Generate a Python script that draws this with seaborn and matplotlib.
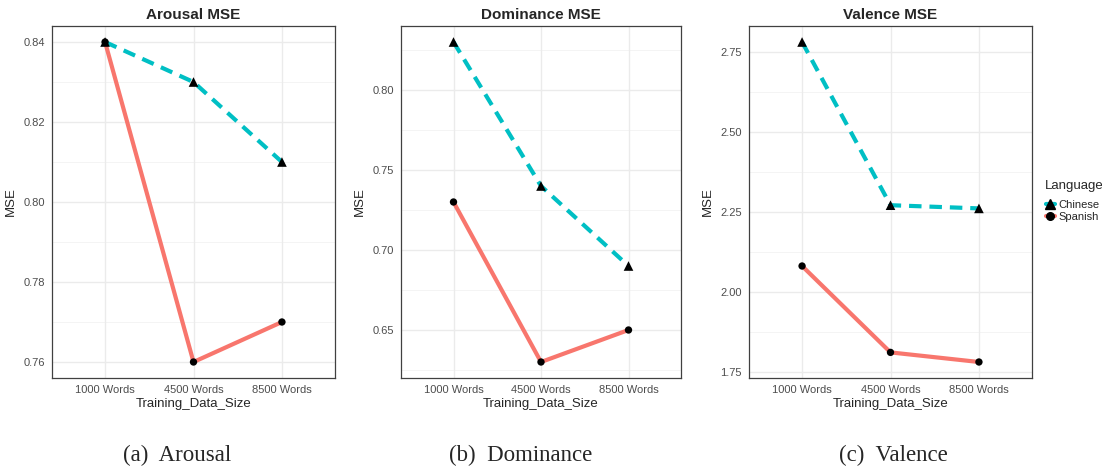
import numpy as np
import pandas as pd
import matplotlib
matplotlib.use('Agg')
import matplotlib.pyplot as plt
import seaborn as sns
from matplotlib.lines import Line2D

sizes = ['1000 Words', '4500 Words', '8500 Words']
languages = ['Chinese', 'Spanish']

arousal_chinese = [0.84, 0.83, 0.81]
arousal_spanish = [0.84, 0.76, 0.77]
dominance_chinese = [0.83, 0.74, 0.69]
dominance_spanish = [0.73, 0.63, 0.65]
valence_chinese = [2.78, 2.27, 2.26]
valence_spanish = [2.08, 1.81, 1.78]

titles = ['Arousal MSE', 'Dominance MSE', 'Valence MSE']
captions = ['(a)  Arousal', '(b)  Dominance', '(c)  Valence']
yticks = [[0.76, 0.78, 0.80, 0.82, 0.84],
          [0.65, 0.70, 0.75, 0.80],
          [1.75, 2.00, 2.25, 2.50, 2.75]]

colors = {'Chinese': '#00BFC4', 'Spanish': '#F8766D'}
markers = {'Chinese': '^', 'Spanish': 'o'}
msizes = {'Chinese': 48, 'Spanish': 28}

def make_df(ch, sp):
    return pd.DataFrame({
        'Training_Data_Size': sizes * 2,
        'x': list(range(3)) * 2,
        'MSE': ch + sp,
        'Language': ['Chinese'] * 3 + ['Spanish'] * 3,
    })

data = [make_df(arousal_chinese, arousal_spanish),
        make_df(dominance_chinese, dominance_spanish),
        make_df(valence_chinese, valence_spanish)]

sns.set_style('white')
plt.rcParams['font.family'] = ['Liberation Sans', 'DejaVu Sans']

fig = plt.figure(figsize=(11.02, 4.67), dpi=100)
W, H = 1102, 467
lefts = [52, 401, 749]
widths = [283, 280, 283]
cap_x = [177, 521, 893]
top, bottom = 26, 378

for i, df in enumerate(data):
    ax = fig.add_axes([lefts[i] / W, 1 - bottom / H, widths[i] / W, (bottom - top) / H])
    lo, hi = df['MSE'].min(), df['MSE'].max()
    pad = (hi - lo) * 0.05
    ax.set_ylim(lo - pad, hi + pad)
    ax.set_xlim(-0.6, 2.6)

    # grid: major + minor like theme_bw
    yt = yticks[i]
    step = yt[1] - yt[0]
    minor = np.arange(yt[0] - step / 2, hi + pad, step)
    for m in minor:
        ax.axhline(m, color='#F2F2F2', lw=0.6, zorder=0)
    for t in yt:
        ax.axhline(t, color='#EBEBEB', lw=1.0, zorder=0)
    for xx in range(3):
        ax.axvline(xx, color='#EBEBEB', lw=1.0, zorder=0)

    sns.lineplot(data=df, x='x', y='MSE', hue='Language', style='Language',
                 palette=colors, dashes={'Chinese': (3.0, 1.9), 'Spanish': ''},
                 linewidth=3.0, legend=False, ax=ax, zorder=2)
    sns.scatterplot(data=df, x='x', y='MSE', style='Language', markers=markers,
                    size='Language', sizes=msizes,
                    color='black', edgecolor='black', linewidth=0,
                    legend=False, ax=ax, zorder=3)

    ax.set_xticks(range(3))
    ax.set_xticklabels(sizes)
    ax.set_yticks(yt)
    ax.set_yticklabels([f'{t:.2f}' for t in yt])
    ax.tick_params(axis='both', labelsize=8, labelcolor='#4D4D4D', color='#333333',
                   length=3, width=0.6, pad=2)
    ax.set_xlabel('Training_Data_Size', fontsize=9.5, labelpad=2)
    ax.set_ylabel('MSE', fontsize=9.5, labelpad=5)
    ax.set_title(titles[i], fontsize=11, fontweight='bold', pad=5)
    for s in ax.spines.values():
        s.set_color('#404040')
        s.set_linewidth(0.9)

    fig.text(cap_x[i] / W, 1 - 455 / H, captions[i],
             fontsize=16.5, family='Liberation Serif', ha='center', va='center')

# legend (title drawn separately for ggplot-like spacing)
fig.text(1045 / W, 1 - 186 / H, 'Language', fontsize=9.5, ha='left', va='center')
handles = [Line2D([], [], color=colors[l], lw=3.0, marker=markers[l],
                  markerfacecolor='black', markeredgecolor='black',
                  markersize=7 if l == 'Chinese' else 5.5)
           for l in languages]
fig.legend(handles, languages, loc='upper left',
           bbox_to_anchor=(1046 / W, 1 - 200 / H), frameon=False,
           fontsize=8, handlelength=0.8, handletextpad=0.3, labelspacing=0.15,
           borderaxespad=0, borderpad=0)

fig.savefig('out.png', dpi=100)
